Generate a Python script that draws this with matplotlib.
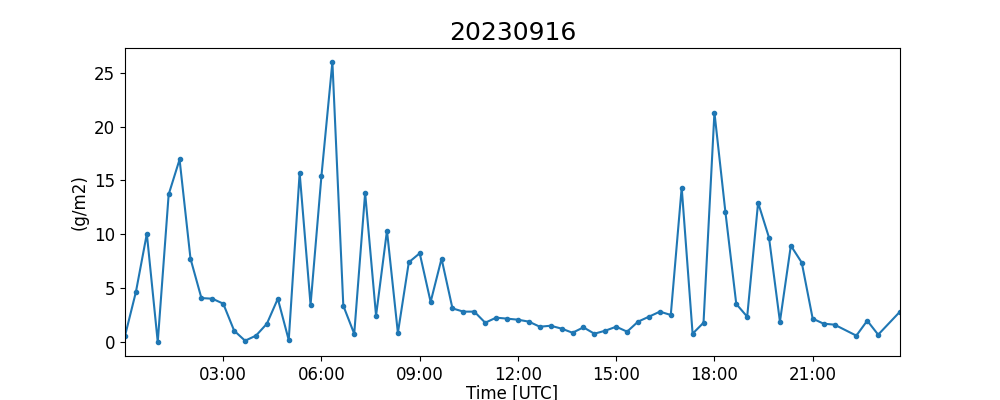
import matplotlib
matplotlib.use("Agg")
import matplotlib.pyplot as plt
import matplotlib.dates as mdates
import numpy as np
import pandas as pd

day = "2023-09-16"

# 20-minute slot times (HH:MM), some slots missing
times = ["00:00", "00:20", "00:40", "01:00", "01:20", "01:40", "02:00", "02:20",
         "02:40", "03:00", "03:20", "03:40", "04:00", "04:20", "04:40", "05:00",
         "05:20", "05:40", "06:00", "06:20", "06:40", "07:00", "07:20", "07:40",
         "08:00", "08:20", "08:40", "09:00", "09:20", "09:40", "10:00", "10:20",
         "10:40", "11:00", "11:20", "11:40", "12:00", "12:20", "12:40", "13:00",
         "13:20", "13:40", "14:00", "14:20", "14:40", "15:00", "15:20", "15:40",
         "16:00", "16:20", "16:40", "17:00", "17:20", "17:40", "18:00", "18:20",
         "18:40", "19:00", "19:20", "19:40", "20:00", "20:20", "20:40", "21:00",
         "21:20", "21:40", "22:20", "22:40", "23:00", "23:40"]

values = [0.57, 4.65, 10.05, 0.0, 13.7, 16.95, 7.74, 4.08,
          4.02, 3.56, 1.05, 0.12, 0.59, 1.70, 4.02, 0.18,
          15.7, 3.45, 15.46, 26.0, 3.37, 0.76, 13.85, 2.44,
          10.34, 0.84, 7.40, 8.24, 3.72, 7.74, 3.12, 2.82,
          2.82, 1.79, 2.26, 2.17, 2.07, 1.89, 1.42, 1.51,
          1.24, 0.86, 1.36, 0.77, 1.05, 1.42, 0.96, 1.89,
          2.35, 2.82, 2.51, 14.34, 0.77, 1.79, 21.31, 12.11,
          3.53, 2.35, 12.94, 9.69, 1.89, 8.95, 7.37, 2.17,
          1.70, 1.61, 0.59, 1.98, 0.68, 2.82]

x = pd.to_datetime([day + " " + t for t in times])

fig, ax = plt.subplots(figsize=(10, 4), dpi=100)
ax.plot(x, values, marker='.', color='#1f77b4')
ax.margins(x=0)
ax.xaxis.set_major_locator(mdates.HourLocator(byhour=[3, 6, 9, 12, 15, 18, 21]))
ax.xaxis.set_major_formatter(mdates.DateFormatter('%H:%M'))
ax.tick_params(labelsize=12)
ax.set_title("20230916", fontsize=18)
ax.set_ylabel("(g/m2)", fontsize=12)
ax.set_xlabel("Time [UTC]", fontsize=12, labelpad=0.5)
fig.savefig("out.png")
